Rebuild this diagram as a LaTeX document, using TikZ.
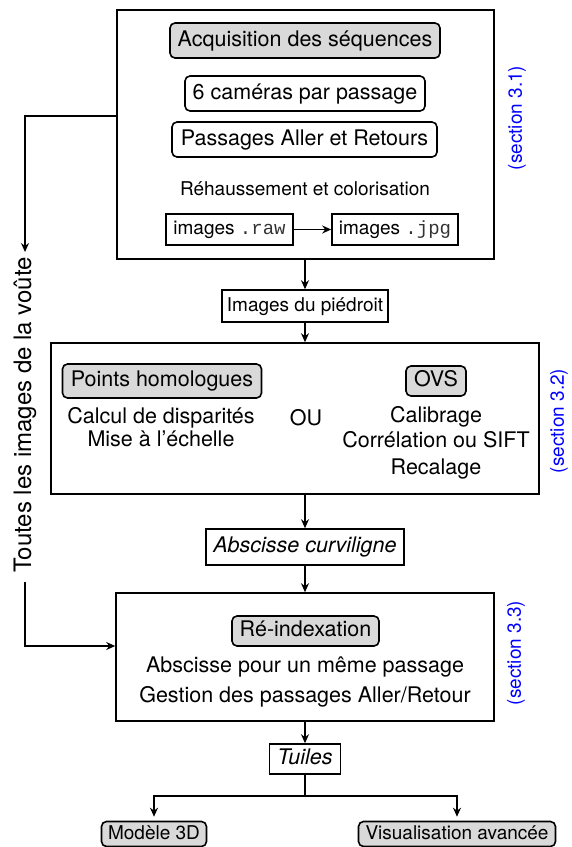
\documentclass[tikz,border=0pt]{standalone}
\usepackage{fontspec}
\setmainfont{TeX Gyre Heros}
\setmonofont{Liberation Mono}
\usetikzlibrary{arrows.meta}
\newcommand\myBig{\fontsize{21.5}{25}\selectfont}
\newcommand\mySmall{\fontsize{19}{23}\selectfont}
\newcommand\myHuge{\fontsize{24}{28}\selectfont}
\newcommand\mono[1]{{\ttfamily\color{black!80}#1}}
\tikzset{
  frame/.style={draw, line width=1.6pt, inner sep=0pt},
  bigtxt/.style={font=\myBig, text height=16pt, text depth=4.5pt, inner sep=0pt},
  smalltxt/.style={font=\mySmall, text height=14pt, text depth=4pt, inner sep=0pt},
  gbox/.style={frame, rounded corners=5pt, fill=black!15},
  wbox/.style={frame, rounded corners=5pt},
  rbox/.style={frame},
  sectxt/.style={font=\mySmall, text=blue, rotate=90, inner sep=0pt},
  arr/.style={line width=1.5pt, -{Stealth[length=9pt,width=8pt,inset=3pt]}},
  ln/.style={line width=1.5pt}
}
\begin{document}
\begin{tikzpicture}[x=1pt,y=-1pt]
\useasboundingbox (0,0) rectangle (571,847);
% big frames
\node[rbox, minimum width=377pt, minimum height=249pt] (box1) at (305.5,134.5) {};
\node[rbox, minimum width=488pt, minimum height=151pt] (box2) at (295,418.5) {};
\node[rbox, minimum width=378pt, minimum height=128pt] (box3) at (305,657) {};
% section 1
\node[gbox, bigtxt, minimum width=270pt, minimum height=35pt] (acq) at (305,40.5) {Acquisition des séquences};
\node[wbox, bigtxt, minimum width=240pt, minimum height=35pt] (cam) at (305,93.5) {6 caméras par passage};
\node[wbox, bigtxt, minimum width=265pt, minimum height=35pt] (pass) at (304.5,139.5) {Passages Aller et Retours};
\node[smalltxt] (reh) at (305,190) {Réhaussement et colorisation};
\node[rbox, smalltxt, minimum width=127pt, minimum height=31pt] (raw) at (229.5,229.5) {images \mono{.raw}};
\node[rbox, smalltxt, minimum width=126pt, minimum height=31pt] (jpg) at (395,229.5) {images \mono{.jpg}};
\draw[arr] (raw) -- (jpg);
% piedroit
\node[rbox, smalltxt, minimum width=166pt, minimum height=32pt] (pied) at (305,306) {Images du piédroit};
% section 2
\node[gbox, bigtxt, minimum width=199pt, minimum height=34pt] (ph) at (162,381) {Points homologues};
\node[gbox, bigtxt, minimum width=60pt, minimum height=30pt] (ovs) at (436,381) {OVS};
\node[bigtxt] (calc) at (161,418) {Calcul de disparités};
\node[bigtxt] (mise) at (161,441) {Mise à l’échelle};
\node[bigtxt] (ou) at (306,420) {OU};
\node[bigtxt] (calib) at (436,417) {Calibrage};
\node[bigtxt] (corr) at (436,442) {Corrélation ou SIFT};
\node[bigtxt] (recal) at (436,469) {Recalage};
% abscisse
\node[rbox, bigtxt, font=\myBig\itshape, minimum width=198pt, minimum height=36pt] (absc) at (305,547) {Abscisse curviligne};
% section 3
\node[gbox, bigtxt, minimum width=147pt, minimum height=30pt] (reidx) at (305.5,631) {Ré-indexation};
\node[bigtxt] (t1) at (305,667) {Abscisse pour un même passage};
\node[bigtxt] (t2) at (305,697) {Gestion des passages Aller/Retour};
% tuiles
\node[rbox, bigtxt, font=\myBig\itshape, minimum width=71pt, minimum height=30pt] (tuiles) at (305,759) {Tuiles};
\node[gbox, smalltxt, minimum width=105pt, minimum height=25pt] (m3d) at (154,834) {Modèle 3D};
\node[gbox, smalltxt, minimum width=197pt, minimum height=25pt] (visu) at (457,834) {Visualisation avancée};
% section labels
\node[sectxt] (sec1) at (517,118) {(section 3.1)};
\node[sectxt] (sec2) at (559,421) {(section 3.2)};
\node[sectxt] (sec3) at (516,653) {(section 3.3)};
% left label
\node[font=\myHuge, rotate=90, inner sep=0pt] (voute) at (25,415) {Toutes les images de la voûte};
% connectors
\draw[arr] (pied.north |- box1.south) -- (pied.north);
\draw[arr] (pied.south) -- (pied.south |- box2.north);
\draw[arr] (absc.north |- box2.south) -- (absc.north);
\draw[arr] (absc.south) -- (absc.south |- box3.north);
\draw[arr] (tuiles.north |- box3.south) -- (tuiles.north);
\coordinate (br) at (305,796);
\draw[ln] (tuiles.south) -- (br);
\draw[arr, shorten >=4pt] (br) -| (m3d.north);
\draw[arr, shorten >=4pt] (br) -| (visu.north);
\coordinate (l1) at (25,116);
\coordinate (l2) at (25,646);
\draw[arr, shorten >=5pt] (l1 -| box1.west) -- (l1) -- (voute.east);
\draw[arr, shorten <=9pt] (voute.west) -- (l2) -- (l2 -| box3.west);
\end{tikzpicture}
\end{document}
